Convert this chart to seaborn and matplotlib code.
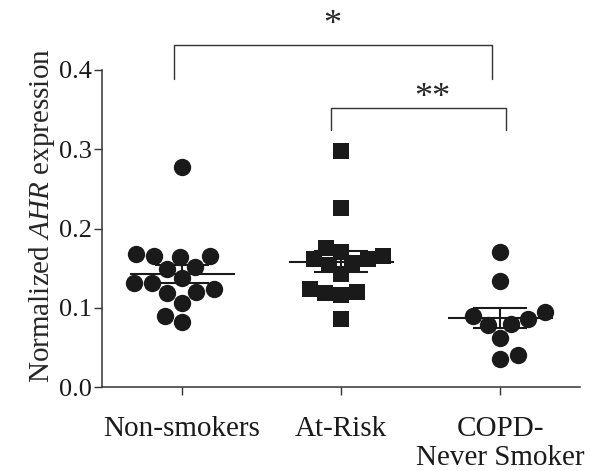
import numpy as np
import pandas as pd
import matplotlib
matplotlib.use("Agg")
import matplotlib.pyplot as plt
import seaborn as sns

# Normalized AHR expression per subject, by group
groups = ["Non-smokers", "At-Risk", "COPD-\nNever Smoker"]
non_smokers = [0.277, 0.165, 0.164, 0.165, 0.168, 0.149, 0.152, 0.137,
               0.131, 0.131, 0.124, 0.120, 0.118, 0.106, 0.082, 0.090]
at_risk = [0.298, 0.226, 0.175, 0.170, 0.162, 0.162, 0.165, 0.156,
           0.154, 0.142, 0.124, 0.119, 0.116, 0.120, 0.086]
copd_never = [0.170, 0.134, 0.095, 0.090, 0.078, 0.086, 0.080, 0.062,
              0.041, 0.035]
y_ticks = [0.0, 0.1, 0.2, 0.3, 0.4]

sns.set_theme(style="ticks")
plt.rcParams["font.family"] = ["Liberation Serif", "DejaVu Serif"]
plt.rcParams["mathtext.fontset"] = "custom"
plt.rcParams["mathtext.rm"] = "Liberation Serif"
plt.rcParams["mathtext.it"] = "Liberation Serif:italic"

df = pd.DataFrame({
    "group": [groups[0]] * len(non_smokers) + [groups[1]] * len(at_risk)
             + [groups[2]] * len(copd_never),
    "value": non_smokers + at_risk + copd_never,
})

fig = plt.figure(figsize=(5.9, 4.71), dpi=100)
ax = fig.add_axes([0.1729, 0.1783, 0.983 - 0.1729, 0.8514 - 0.1783])

ink = "#1a1a1a"
circles = df[df["group"] != groups[1]]
squares = df[df["group"] == groups[1]]
sns.swarmplot(data=circles, x="group", y="value", order=groups, ax=ax,
              color=ink, size=12.5, marker="o", linewidth=0)
sns.swarmplot(data=squares, x="group", y="value", order=groups, ax=ax,
              color=ink, size=11, marker="s", linewidth=0)

# mean line with SEM whiskers for each group
for i, vals in enumerate([non_smokers, at_risk, copd_never]):
    v = np.asarray(vals)
    m = v.mean()
    se = v.std(ddof=1) / np.sqrt(len(v))
    ax.hlines(m, i - 0.33, i + 0.33, color=ink, lw=1.5, zorder=5)
    ax.hlines([m - se, m + se], i - 0.17, i + 0.17, color=ink,
              lw=1.5, zorder=5)
    ax.vlines(i, m - se, m + se, color=ink, lw=1.5, zorder=5)

ax.set_xlim(-0.503, 2.5)
ax.set_ylim(0, 0.4)
ax.set_yticks(y_ticks)
ax.set_yticklabels([f"{t:.1f}" for t in y_ticks])
ax.set_xlabel("")
ax.set_ylabel("Normalized $\\mathit{AHR}$ expression", fontsize=21,
              labelpad=2)
ax.yaxis.label.set_y(0.54)
ax.tick_params(axis="both", length=6, width=1, color="#333333",
               labelcolor=ink)
ax.tick_params(axis="y", labelsize=19, pad=1)
ax.tick_params(axis="x", labelsize=21, pad=15)
for lbl in ax.get_xticklabels():
    lbl.set_linespacing(1.15)
for s in ["top", "right"]:
    ax.spines[s].set_visible(False)
for s in ["left", "bottom"]:
    ax.spines[s].set_linewidth(1.1)
    ax.spines[s].set_color("#333333")

# significance brackets
br = dict(color="#333333", lw=1, clip_on=False, solid_joinstyle="round")
ax.plot([-0.05, -0.05, 1.95, 1.95], [0.389, 0.432, 0.432, 0.389], **br)
ax.text(0.945, 0.456, "*", ha="center", va="center", fontsize=26,
        clip_on=False)
ax.plot([0.935, 0.935, 2.035, 2.035], [0.324, 0.352, 0.352, 0.324], **br)
ax.text(1.57, 0.364, "**", ha="center", va="center", fontsize=26,
        clip_on=False)

fig.savefig("out.png", dpi=100)
